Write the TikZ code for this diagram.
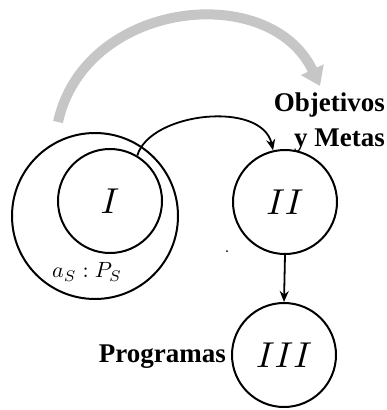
\documentclass[tikz,border=0pt]{standalone}
\usepackage{graphicx}
\usepackage{fontspec}
\setmainfont{Liberation Serif}
\usetikzlibrary{arrows.meta}
\newcommand{\scaledmath}[2]{\scalebox{#1}{$#2$}}
\tikzset{
  circ/.style={draw, circle, line width=2pt, inner sep=0pt, minimum size=#1},
  lbl/.style={font=\fontsize{27}{35}\selectfont\bfseries, inner sep=0pt},
  conn/.style={line width=1.8pt, -{Stealth[length=11pt,width=9pt]}},
  bigarrow/.style={line width=10pt, draw=gray!45, -{Triangle[length=18pt,width=24pt]}}
}
\begin{document}
\begin{tikzpicture}[x=1pt,y=-1pt]
\useasboundingbox (0,0) rectangle (386,410);
\node[circ=166pt] (S) at (95,216) {};
\node[circ=104pt] (I) at (110,201) {\scaledmath{3.6}{I}};
\node[circ=104pt] (II) at (285,202) {\scaledmath{3.6}{II}};
\node[circ=104pt] (III) at (284,355) {\scaledmath{3.6}{III}};
\node[inner sep=0pt] (as) at (87,272) {\scaledmath{2.2}{a_S : P_S}};
\node[lbl, align=right, anchor=north east] (obj) at (385,93) {Objetivos\\y Metas};
\node[lbl, anchor=base east] (prog) at (226,362) {Programas};
\coordinate (gs) at (58,122);
\coordinate (ge) at (320,86);
\draw[bigarrow] (gs) .. controls (85,0) and (270,-20) .. (ge);
\draw[conn] (I.59) .. controls (150,112) and (262,100) .. (II.103);
\draw[conn] (II.south) -- (III.north);
\fill (227,251) circle (1pt);
\end{tikzpicture}
\end{document}
